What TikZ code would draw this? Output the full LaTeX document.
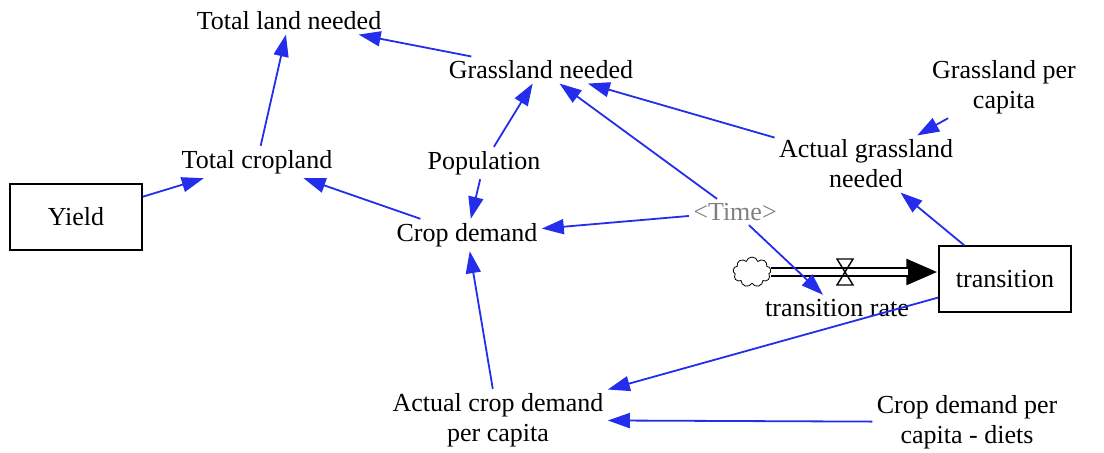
\documentclass[tikz,border=0pt]{standalone}
\usepackage{fontspec}
\setmainfont{Liberation Serif}
\usetikzlibrary{arrows.meta,shapes.symbols}
\definecolor{linkblue}{RGB}{35,45,235}
\definecolor{shadowgrey}{RGB}{128,128,128}

\begin{document}
\begin{tikzpicture}[x=0.5pt,y=-0.5pt,
  link/.style={draw=linkblue, line width=0.9pt, -{Triangle[length=11pt,width=7.5pt]}},
  level/.style={draw, line width=0.7pt, minimum width=66pt, minimum height=33pt}]
\useasboundingbox (0,0) rectangle (1104,452);
\begin{scope}[every node/.style={font=\fontsize{13}{15}\selectfont, align=center, inner sep=2pt}]

\node (totland) at (289,21) {Total land needed};
\node (grassneed) at (541,70) {Grassland needed};
\node (grasscap) at (1004,87) {Grassland per\\capita};
\node (totcrop) at (257,162) {Total cropland};
\node (pop) at (484,163) {Population};
\node (actgrass) at (866,164) {Actual grassland\\needed};
\node[level] (yield) at (76,217) {Yield};
\node (cropdem) at (467,235) {Crop demand};
\node[text=shadowgrey] (time) at (735,212) {<Time>};
\node[level] (trans) at (1005,279) {transition};
\node (rate) at (837,308) {transition rate};
\node (actcrop) at (498,420) {Actual crop demand\\per capita};
\node (diets) at (967,422) {Crop demand per\\capita - diets};
\node[cloud, draw, cloud puffs=9, minimum width=19pt, minimum height=15pt, inner sep=0pt] (src) at (752,272) {};
\coordinate (valve) at (845,272);

% flow
\draw[line width=4.6pt, -{Triangle[length=16pt,width=12pt]}] (src.east) -- (src.east -| trans.west);
\draw[white, line width=3pt, shorten >=15pt] (src.east) -- (src.east -| trans.west);
\draw[line width=0.7pt, shift={(valve)}] (-8,-13) -- (8,-13) -- (-8,13) -- (8,13) -- cycle;

% links
\draw[link] (grassneed) -- (totland);
\draw[link] (totcrop) -- (totland);
\draw[link] (yield) -- (totcrop);
\draw[link] (pop) -- (grassneed);
\draw[link] (pop) -- (cropdem);
\draw[link] (cropdem) -- (totcrop);
\draw[link] (time) -- (cropdem);
\draw[link] (time) -- (grassneed);
\draw[link] (time) -- (rate);
\draw[link] (actgrass) -- (grassneed);
\draw[link] (grasscap) -- (actgrass);
\draw[link] (trans) -- (actgrass);
\draw[link] (trans) -- (actcrop);
\draw[link] (diets) -- (actcrop);
\draw[link] (actcrop) -- (cropdem);

\end{scope}
\end{tikzpicture}
\end{document}
